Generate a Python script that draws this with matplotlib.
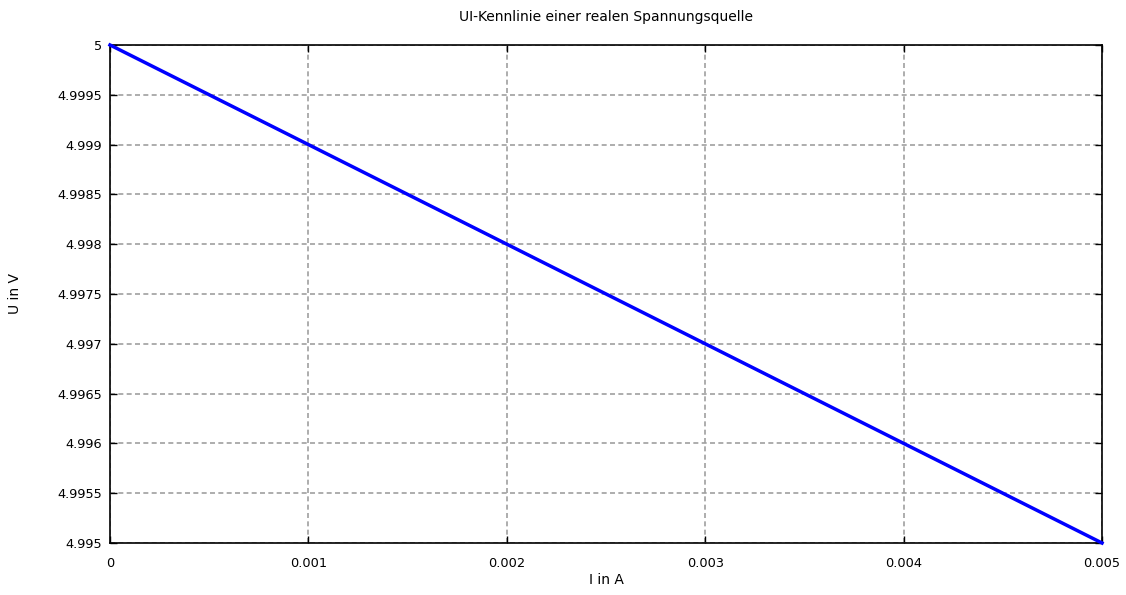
import matplotlib
matplotlib.use("Agg")
import matplotlib.pyplot as plt

current = [0.0, 0.005]
voltage = [5.0, 4.995]
x_ticks = [0, 0.001, 0.002, 0.003, 0.004, 0.005]
x_labels = ["0", "0.001", "0.002", "0.003", "0.004", "0.005"]
y_ticks = [4.995, 4.9955, 4.996, 4.9965, 4.997, 4.9975, 4.998, 4.9985, 4.999, 4.9995, 5.0]
y_labels = ["4.995", "4.9955", "4.996", "4.9965", "4.997", "4.9975", "4.998", "4.9985", "4.999", "4.9995", "5"]

fig = plt.figure(figsize=(11.26, 5.95), dpi=100)
ax = fig.add_axes([0.0977, 0.0874, 0.881, 0.837])
ax.plot(current, voltage, color="#0000ff", lw=2.5, zorder=3, clip_on=False)
ax.set_xlim(0, 0.005)
ax.set_ylim(4.995, 5.0)
ax.set_xticks(x_ticks)
ax.set_xticklabels(x_labels, fontsize=9.3)
ax.set_yticks(y_ticks)
ax.set_yticklabels(y_labels, fontsize=9.3)
ax.grid(True, color="#a0a0a0", linestyle=(0, (3, 2)), lw=1.2)
ax.tick_params(direction="in", top=True, right=True, length=5, width=1)
ax.tick_params(axis="x", pad=10)
ax.tick_params(axis="y", pad=6)
for s in ax.spines.values():
    s.set_linewidth(1.2)
ax.set_xlabel("I in A", fontsize=10, labelpad=2)
ax.set_ylabel("U in V", fontsize=10, labelpad=25)
ax.set_title("UI-Kennlinie einer realen Spannungsquelle", fontsize=10, pad=17)
fig.savefig("out.png", dpi=100)
